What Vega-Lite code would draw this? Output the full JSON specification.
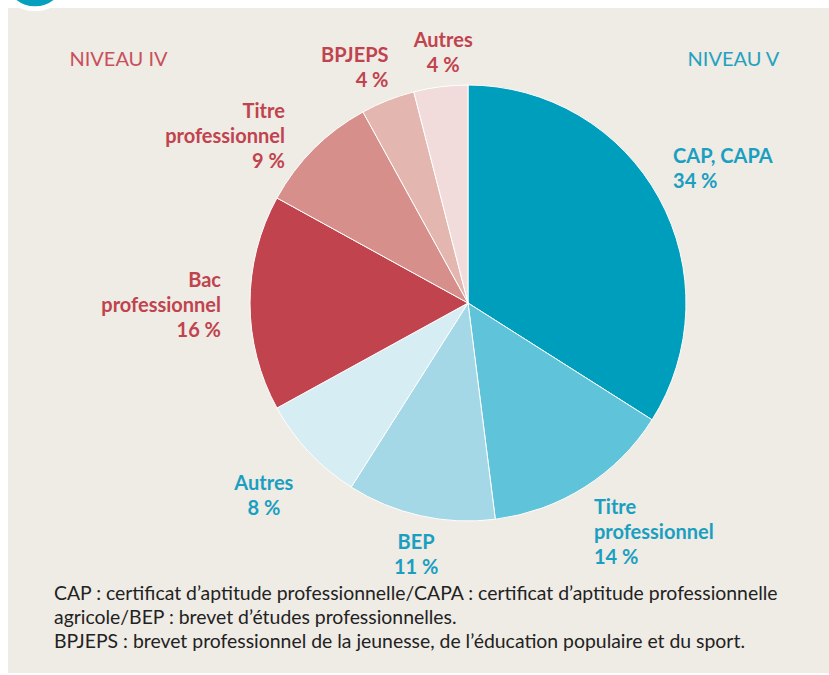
{
  "$schema": "https://vega.github.io/schema/vega-lite/v6.json",
  "width": 821,
  "height": 665,
  "autosize": {"type": "none"},
  "padding": {"left": 8, "top": 8, "right": 0, "bottom": 2},
  "background": "#ffffff",
  "view": {"fill": "#efebe5", "stroke": null},
  "data": {
    "values": [
      {"order": 1, "key": "cap", "label": "CAP, CAPA\n34 %", "value": 34},
      {"order": 2, "key": "tpv", "label": "Titre\nprofessionnel\n14 %", "value": 14},
      {"order": 3, "key": "bep", "label": "BEP\n11 %", "value": 11},
      {"order": 4, "key": "autv", "label": "Autres\n8 %", "value": 8},
      {"order": 5, "key": "bac", "label": "Bac\nprofessionnel\n16 %", "value": 16},
      {"order": 6, "key": "tpiv", "label": "Titre\nprofessionnel\n9 %", "value": 9},
      {"order": 7, "key": "bpj", "label": "BPJEPS\n4 %", "value": 4},
      {"order": 8, "key": "autiv", "label": "Autres\n4 %", "value": 4}
    ]
  },
  "layer": [
    {
      "mark": {"type": "arc", "x": 460, "y": 295, "outerRadius": 218, "stroke": "#ffffff", "strokeWidth": 1},
      "encoding": {
        "theta": {"field": "value", "type": "quantitative", "stack": true},
        "order": {"field": "order", "type": "quantitative"},
        "color": {
          "field": "key", "type": "nominal", "legend": null,
          "scale": {
            "domain": ["cap", "tpv", "bep", "autv", "bac", "tpiv", "bpj", "autiv"],
            "range": ["#009ebd", "#5fc3d9", "#a4d8e6", "#d6edf3", "#c0434d", "#d68f8b", "#e4b6b0", "#f1dcdb"]
          }
        }
      }
    },
    {
      "mark": {"type": "text", "x": 460, "y": 295, "radius": 234, "dy": -33, "align": "left", "baseline": "middle", "lineBreak": "\n", "lineHeight": 25, "font": "Lato", "fontWeight": "bold", "fontSize": 20, "color": "#1a9fc1"},
      "encoding": {
        "theta": {"field": "value", "type": "quantitative", "stack": true},
        "order": {"field": "order", "type": "quantitative"},
        "detail": {"field": "key", "type": "nominal"},
        "text": {"condition": {"test": "datum.key === 'cap'", "field": "label"}, "value": ""}
      }
    },
    {
      "mark": {"type": "text", "x": 460, "y": 295, "radius": 235, "dy": 7, "align": "left", "baseline": "middle", "lineBreak": "\n", "lineHeight": 25, "font": "Lato", "fontWeight": "bold", "fontSize": 20, "color": "#1a9fc1"},
      "encoding": {
        "theta": {"field": "value", "type": "quantitative", "stack": true},
        "order": {"field": "order", "type": "quantitative"},
        "detail": {"field": "key", "type": "nominal"},
        "text": {"condition": {"test": "datum.key === 'tpv'", "field": "label"}, "value": ""}
      }
    },
    {
      "mark": {"type": "text", "x": 460, "y": 295, "radius": 256, "dx": 4, "dy": -10, "align": "center", "baseline": "middle", "lineBreak": "\n", "lineHeight": 25, "font": "Lato", "fontWeight": "bold", "fontSize": 20, "color": "#1a9fc1"},
      "encoding": {
        "theta": {"field": "value", "type": "quantitative", "stack": true},
        "order": {"field": "order", "type": "quantitative"},
        "detail": {"field": "key", "type": "nominal"},
        "text": {"condition": {"test": "datum.key === 'bep'", "field": "label"}, "value": ""}
      }
    },
    {
      "mark": {"type": "text", "x": 460, "y": 295, "radius": 280, "dy": -11, "align": "center", "baseline": "middle", "lineBreak": "\n", "lineHeight": 25, "font": "Lato", "fontWeight": "bold", "fontSize": 20, "color": "#1a9fc1"},
      "encoding": {
        "theta": {"field": "value", "type": "quantitative", "stack": true},
        "order": {"field": "order", "type": "quantitative"},
        "detail": {"field": "key", "type": "nominal"},
        "text": {"condition": {"test": "datum.key === 'autv'", "field": "label"}, "value": ""}
      }
    },
    {
      "mark": {"type": "text", "x": 460, "y": 295, "radius": 247, "dy": -22, "align": "right", "baseline": "middle", "lineBreak": "\n", "lineHeight": 25, "font": "Lato", "fontWeight": "bold", "fontSize": 20, "color": "#c0434e"},
      "encoding": {
        "theta": {"field": "value", "type": "quantitative", "stack": true},
        "order": {"field": "order", "type": "quantitative"},
        "detail": {"field": "key", "type": "nominal"},
        "text": {"condition": {"test": "datum.key === 'bac'", "field": "label"}, "value": ""}
      }
    },
    {
      "mark": {"type": "text", "x": 460, "y": 295, "radius": 259, "dy": -8, "align": "right", "baseline": "middle", "lineBreak": "\n", "lineHeight": 25, "font": "Lato", "fontWeight": "bold", "fontSize": 20, "color": "#c0434e"},
      "encoding": {
        "theta": {"field": "value", "type": "quantitative", "stack": true},
        "order": {"field": "order", "type": "quantitative"},
        "detail": {"field": "key", "type": "nominal"},
        "text": {"condition": {"test": "datum.key === 'tpiv'", "field": "label"}, "value": ""}
      }
    },
    {
      "mark": {"type": "text", "x": 460, "y": 295, "radius": 254, "dx": 14, "dy": -11, "align": "right", "baseline": "middle", "lineBreak": "\n", "lineHeight": 25, "font": "Lato", "fontWeight": "bold", "fontSize": 20, "color": "#c0434e"},
      "encoding": {
        "theta": {"field": "value", "type": "quantitative", "stack": true},
        "order": {"field": "order", "type": "quantitative"},
        "detail": {"field": "key", "type": "nominal"},
        "text": {"condition": {"test": "datum.key === 'bpj'", "field": "label"}, "value": ""}
      }
    },
    {
      "mark": {"type": "text", "x": 460, "y": 295, "radius": 254, "dx": 7, "dy": -10, "align": "center", "baseline": "middle", "lineBreak": "\n", "lineHeight": 25, "font": "Lato", "fontWeight": "bold", "fontSize": 20, "color": "#c0434e"},
      "encoding": {
        "theta": {"field": "value", "type": "quantitative", "stack": true},
        "order": {"field": "order", "type": "quantitative"},
        "detail": {"field": "key", "type": "nominal"},
        "text": {"condition": {"test": "datum.key === 'autiv'", "field": "label"}, "value": ""}
      }
    },
    {
      "data": {"values": [{"t": "NIVEAU IV"}]},
      "mark": {"type": "text", "x": 110.5, "y": 52, "align": "center", "baseline": "middle", "font": "Lato", "fontSize": 20, "color": "#c8505b"},
      "encoding": {"text": {"field": "t", "type": "nominal"}}
    },
    {
      "data": {"values": [{"t": "NIVEAU V"}]},
      "mark": {"type": "text", "x": 725.5, "y": 52, "align": "center", "baseline": "middle", "font": "Lato", "fontSize": 20, "color": "#23a2c0"},
      "encoding": {"text": {"field": "t", "type": "nominal"}}
    },
    {
      "data": {"values": [{"t": "CAP : certificat d’aptitude professionnelle/CAPA : certificat d’aptitude professionnelle\nagricole/BEP : brevet d’études professionnelles.\nBPJEPS : brevet professionnel de la jeunesse, de l’éducation populaire et du sport."}]},
      "mark": {"type": "text", "x": 46, "y": 586, "align": "left", "baseline": "middle", "lineBreak": "\n", "lineHeight": 24, "font": "Lato", "fontSize": 19.4, "color": "#222222"},
      "encoding": {"text": {"field": "t", "type": "nominal"}}
    },
    {
      "data": {"values": [{"t": "badge"}]},
      "mark": {"type": "point", "x": 27, "y": -32, "shape": "circle", "size": 4300, "filled": true, "fill": "#05a0bd", "stroke": "#ffffff", "strokeWidth": 5, "opacity": 1, "strokeOpacity": 1}
    }
  ]
}
